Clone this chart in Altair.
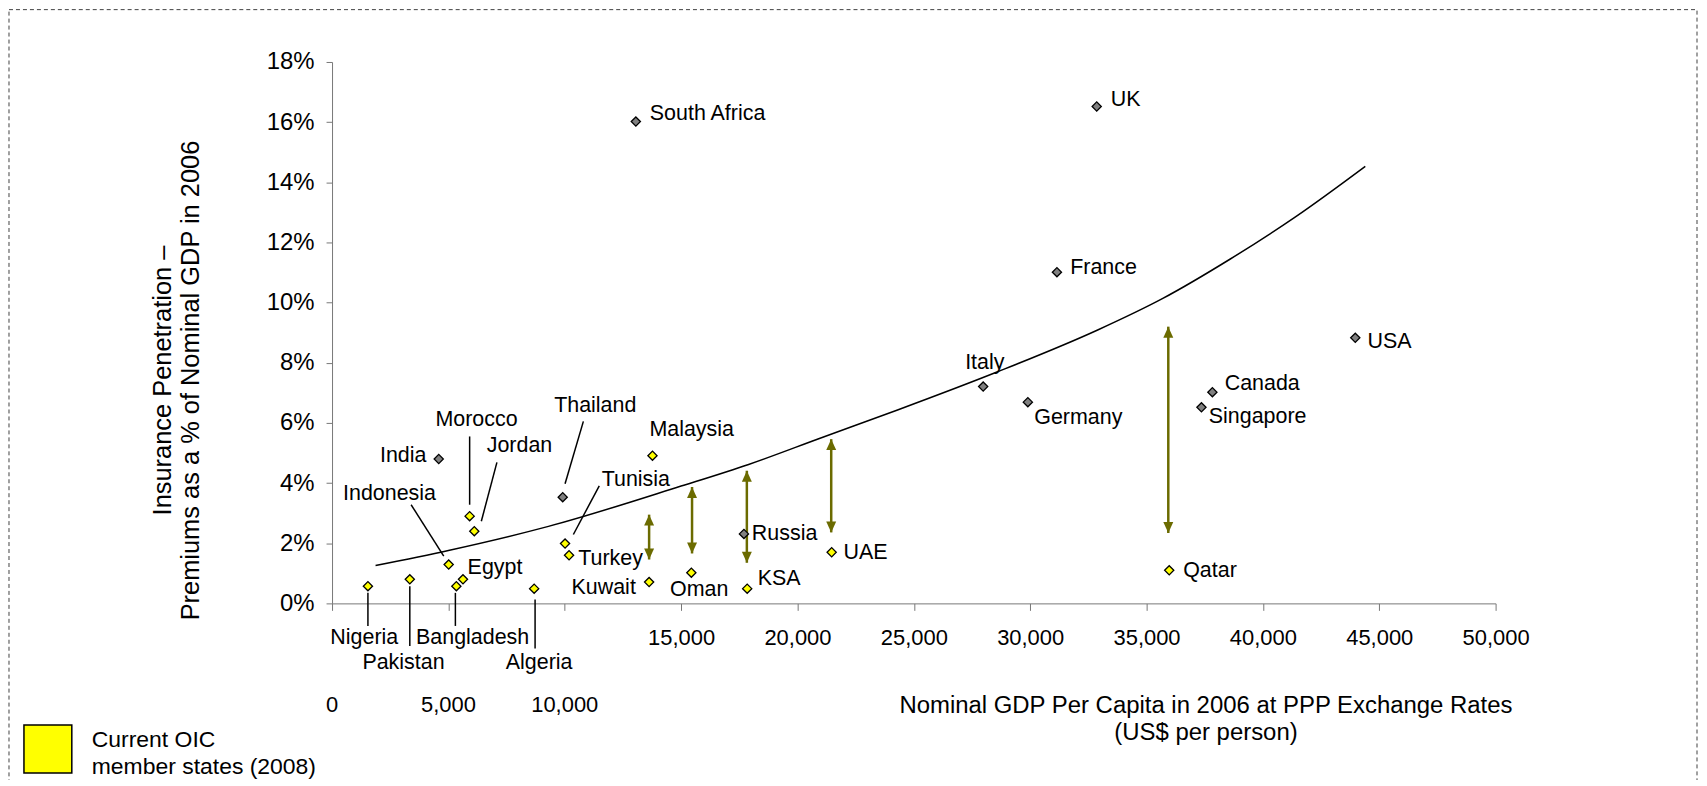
import altair as alt
import pandas as pd

# ---------------- data ----------------
countries = ["South Africa", "UK", "France", "Italy", "Germany", "USA", "Canada", "Singapore",
             "Russia", "Thailand", "India",
             "Qatar", "UAE", "KSA", "Oman", "Kuwait", "Malaysia", "Tunisia", "Turkey", "Algeria",
             "Jordan", "Morocco", "Egypt", "Bangladesh", "Indonesia", "Pakistan", "Nigeria"]
gdp_per_capita = [13055, 32860, 31150, 27980, 29900, 43970, 37830, 37360, 17700, 9913, 4585,
                  35975, 21470, 17840, 15440, 13625, 13770, 10013, 10185, 8685, 6113, 5913,
                  5627, 5342, 5013, 3342, 1542]
penetration_pct = [16.02, 16.52, 11.01, 7.21, 6.69, 8.83, 7.02, 6.52, 2.31, 3.53, 4.80,
                   1.10, 1.70, 0.49, 1.02, 0.71, 4.91, 1.99, 1.60, 0.49, 2.40, 2.90,
                   0.80, 0.57, 1.29, 0.80, 0.57]
oic_member = [False] * 11 + [True] * 16

# point labels: text, anchor (gdp, %), alignment
label_text = ["South Africa", "UK", "France", "Italy", "Germany", "USA", "Canada", "Singapore",
              "Qatar", "UAE", "Russia", "KSA", "Oman", "Kuwait", "Turkey", "Tunisia", "Malaysia",
              "Thailand", "Morocco", "Jordan", "India", "Indonesia", "Egypt", "Nigeria",
              "Pakistan", "Bangladesh", "Algeria"]
label_gdp = [13655, 33460, 31720, 28050, 30175, 44500, 38360, 37675,
             36575, 21980, 18040, 18290, 15780, 13055, 10580, 13055, 15455,
             11310, 6210, 8055, 4055, 2470, 5825, 1385,
             3070, 6040, 8900]
label_pct = [16.27, 16.74, 11.15, 7.98, 6.16, 8.68, 7.29, 6.21,
             1.07, 1.68, 2.29, 0.80, 0.46, 0.52, 1.46, 4.09, 5.77,
             6.57, 6.10, 5.24, 4.91, 3.65, 1.18, -1.14,
             -1.97, -1.14, -1.97]
label_align = ["left", "left", "left", "center", "left", "left", "left", "left",
               "left", "left", "left", "left", "center", "right", "left", "center", "center",
               "center", "center", "center", "right", "center", "left", "center",
               "center", "center", "center"]

# leader lines (gdp, %) -> (gdp, %)
leader_gdp = [1542, 3342, 5300, 8725, 5913, 7085, 10800, 3398, 11483]
leader_pct = [0.35, 0.57, 0.35, 0.13, 5.55, 4.69, 6.05, 3.28, 3.91]
leader_gdp2 = [1542, 3342, 5300, 8725, 5913, 6415, 10013, 4800, 10370]
leader_pct2 = [-0.75, -1.42, -0.75, -1.50, 3.28, 2.73, 3.98, 1.57, 2.29]

# double-headed gap arrows
arrow_gdp = [13625, 15470, 17825, 21450, 35935]
arrow_top = [2.95, 3.87, 4.41, 5.46, 9.20]
arrow_bottom = [1.46, 1.66, 1.35, 2.36, 2.34]

# trend curve points
trend_gdp = [1870, 5000, 9300, 15000, 17900, 21000, 24300, 28600, 32900, 35700, 38600, 41400, 44400]
trend_pct = [1.26, 1.76, 2.56, 3.90, 4.62, 5.50, 6.43, 7.70, 9.09, 10.14, 11.45, 12.85, 14.53]

x_ticks = [0, 5000, 10000, 15000, 20000, 25000, 30000, 35000, 40000, 45000, 50000]
low_tick_values = [0, 5000, 10000]
low_tick_labels = ["0", "5,000", "10,000"]
y_ticks = [0, 0.02, 0.04, 0.06, 0.08, 0.10, 0.12, 0.14, 0.16, 0.18]

x_title = ["Nominal GDP Per Capita in 2006 at PPP Exchange Rates", "(US$ per person)"]
y_title = ["Insurance Penetration \u2013", "Premiums as a % of Nominal GDP in 2006"]
legend_line1 = "Current OIC"
legend_line2 = "member states (2008)"

# ---------------- chart ----------------
W, H = 1167, 543
FONT = "Liberation Sans"
AXIS_GRAY = "#777777"
OLIVE = "#6b6b00"

xscale = alt.Scale(domain=[0, 50000], nice=False, zero=False)
yscale = alt.Scale(domain=[0, 0.18], nice=False, zero=False)

pts = pd.DataFrame({
    "gdp": gdp_per_capita,
    "pen": [v / 100 for v in penetration_pct],
    "country": countries,
    "group": ["OIC" if o else "Other" for o in oic_member],
})
labels = pd.DataFrame({
    "gdp": label_gdp,
    "pen": [v / 100 for v in label_pct],
    "text": label_text,
    "align": label_align,
})
leaders = pd.DataFrame({
    "gdp": leader_gdp, "pen": [v / 100 for v in leader_pct],
    "gdp2": leader_gdp2, "pen2": [v / 100 for v in leader_pct2],
})
arrows = pd.DataFrame({
    "gdp": arrow_gdp,
    "top": [v / 100 for v in arrow_top],
    "bottom": [v / 100 for v in arrow_bottom],
})
trend = pd.DataFrame({"gdp": trend_gdp, "pen": [v / 100 for v in trend_pct]})
lowticks = pd.DataFrame({"gdp": low_tick_values, "lbl": low_tick_labels})

x_axis = alt.Axis(
    values=x_ticks,
    labelExpr="datum.value < 15000 ? '' : format(datum.value, ',.0f')",
    labelFont=FONT, labelFontSize=22, labelColor="black", labelPadding=17,
    labelFlush=False, labelOverlap=False,
    tickSize=7, tickColor=AXIS_GRAY, domainColor=AXIS_GRAY, grid=False,
    title=x_title, titleFont=FONT, titleFontSize=24, titleFontWeight="normal",
    titleColor="black", titleX=876, titleY=90, titleAlign="center",
    titleBaseline="top", titleAngle=0, titleLineHeight=27.6,
)
y_axis = alt.Axis(
    values=y_ticks, format=".0%",
    labelFont=FONT, labelFontSize=24, labelColor="black", labelPadding=12,
    tickSize=6, tickColor=AXIS_GRAY, domainColor=AXIS_GRAY, grid=False,
    title=y_title, titleFont=FONT, titleFontSize=25.5, titleFontWeight="normal",
    titleColor="black", titleX=-182, titleY=319, titleAlign="center",
    titleBaseline="top", titleAngle=-90, titleLineHeight=28.5,
)

X = lambda f="gdp": alt.X(f"{f}:Q", scale=xscale, axis=None)
Y = lambda f="pen": alt.Y(f"{f}:Q", scale=yscale, axis=None)

trend_layer = alt.Chart(trend).mark_line(
    color="black", strokeWidth=1.5, interpolate="monotone", clip=False
).encode(
    x=alt.X("gdp:Q", scale=xscale, axis=x_axis),
    y=alt.Y("pen:Q", scale=yscale, axis=y_axis),
    order="gdp:Q",
)

leader_layer = alt.Chart(leaders).mark_rule(color="black", strokeWidth=1.5).encode(
    x=X(), y=Y(), x2="gdp2:Q", y2="pen2:Q"
)

arrow_rule = alt.Chart(arrows).mark_rule(color=OLIVE, strokeWidth=2.5).encode(
    x=X(), y=Y("top"), y2="bottom:Q"
)
arrow_up = alt.Chart(arrows).mark_point(
    shape="M0,0L-1,2.2L1,2.2Z", size=100, filled=True, color=OLIVE, opacity=1, strokeWidth=0
).encode(x=X(), y=Y("top"))
arrow_down = alt.Chart(arrows).mark_point(
    shape="M0,0L-1,-2.2L1,-2.2Z", size=100, filled=True, color=OLIVE, opacity=1, strokeWidth=0
).encode(x=X(), y=Y("bottom"))

point_layer = alt.Chart(pts).mark_point(
    shape="diamond", size=85, filled=True, stroke="black", strokeWidth=1.3, opacity=1
).encode(
    x=X(), y=Y(),
    fill=alt.Fill("group:N", scale=alt.Scale(domain=["OIC", "Other"], range=["#ffff00", "#808080"]),
                  legend=None),
)

label_layers = []
for al in ["left", "center", "right"]:
    label_layers.append(
        alt.Chart(labels).transform_filter(alt.datum.align == al).mark_text(
            font=FONT, fontSize=21.5, color="black", align=al, baseline="middle"
        ).encode(x=X(), y=Y(), text="text:N")
    )

low_tick_layer = alt.Chart(lowticks).mark_text(
    font=FONT, fontSize=22, color="black", align="center", baseline="middle"
).encode(x=X(), y=alt.value(H + 102), text="lbl:N")

one = pd.DataFrame({"k": [0]})
border = alt.Chart(one).mark_rect(
    fillOpacity=0, stroke="#404040", strokeWidth=1, strokeDash=[4, 3]
).encode(x=alt.value(-324), x2=alt.value(1369), y=alt.value(-52.5), y2=alt.value(760))

legend_box = alt.Chart(one).mark_rect(
    fill="#ffff00", stroke="black", strokeWidth=1.5
).encode(x=alt.value(-309), x2=alt.value(-261), y=alt.value(665), y2=alt.value(713))

legend_t1 = alt.Chart(pd.DataFrame({"t": [legend_line1]})).mark_text(
    font=FONT, fontSize=23, color="black", align="left", baseline="middle"
).encode(x=alt.value(-241), y=alt.value(680), text="t:N")
legend_t2 = alt.Chart(pd.DataFrame({"t": [legend_line2]})).mark_text(
    font=FONT, fontSize=23, color="black", align="left", baseline="middle"
).encode(x=alt.value(-241), y=alt.value(707), text="t:N")

chart = alt.layer(
    trend_layer, border, leader_layer, arrow_rule, arrow_up, arrow_down,
    point_layer, *label_layers, low_tick_layer, legend_box, legend_t1, legend_t2,
).resolve_scale(
    x="independent", y="independent"
).properties(
    width=W, height=H,
    padding={"left": 325, "top": 53, "right": 204, "bottom": 176},
    autosize=alt.AutoSizeParams(type="none"),
    background="white",
).configure_view(stroke=None)

chart.save("out.html", embed_options={"renderer": "svg", "actions": False})
